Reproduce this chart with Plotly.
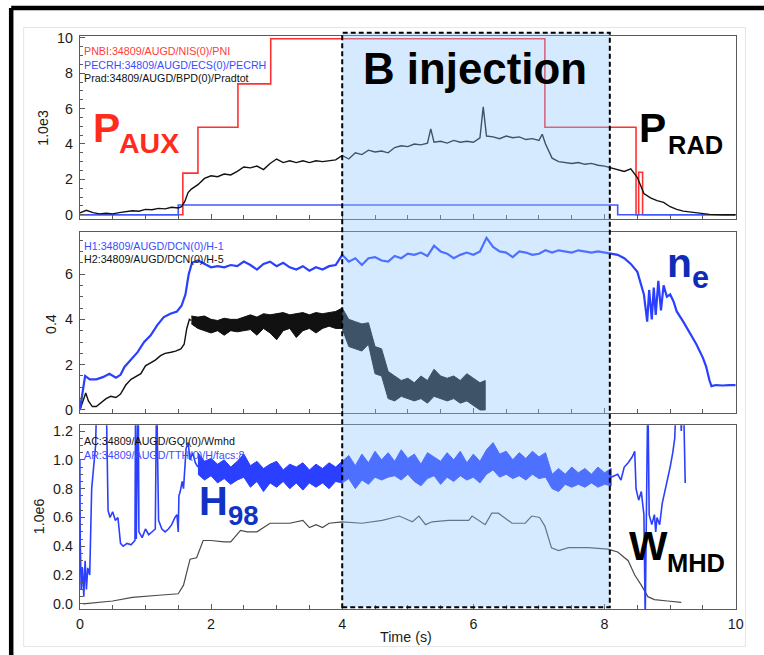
import plotly.graph_objects as go

W, H = 764, 655

# ---------------- data ----------------
# Panel 1 (1.0e3)
pnbi_t = [0.0, 1.57, 1.80, 2.41, 2.91, 7.09, 8.48, 8.52, 8.58, 10.0]
pnbi_v = [0.0, 2.35, 4.95, 7.40, 9.95, 4.95, 0.0, 2.40, 0.0, 0.0]

pecrh_t = [0.0, 1.50, 8.20, 10.0]
pecrh_v = [0.0, 0.55, 0.0, 0.0]

prad_t = [0.0, 0.1, 0.2, 0.3, 0.4, 0.5, 0.6, 0.7, 0.8, 0.9, 1.0, 1.1, 1.2, 1.3, 1.4, 1.5,
          1.55, 1.6, 1.65, 1.7, 1.8, 1.9, 2.0, 2.1, 2.2, 2.3, 2.4, 2.5, 2.6, 2.7, 2.8, 2.9,
          3.0, 3.1, 3.2, 3.3, 3.4, 3.5, 3.6, 3.7, 3.8, 3.9, 4.0, 4.1, 4.2, 4.3, 4.4, 4.5,
          4.6, 4.7, 4.8, 4.9, 5.0, 5.1, 5.2, 5.3, 5.35, 5.4, 5.5, 5.6, 5.7, 5.8, 5.9, 6.0,
          6.1, 6.15, 6.2, 6.3, 6.4, 6.5, 6.6, 6.7, 6.8, 6.9, 7.0, 7.05, 7.1, 7.2, 7.3, 7.4,
          7.5, 7.6, 7.7, 7.8, 7.9, 8.0, 8.1, 8.2, 8.3, 8.4, 8.5, 8.6, 8.7, 8.8, 8.9, 9.0,
          9.1, 9.2, 9.3, 9.4, 9.5, 9.6, 9.8, 10.0]
prad_v = [0.10, 0.25, 0.12, 0.05, 0.08, 0.05, 0.12, 0.15, 0.22, 0.20, 0.30, 0.28, 0.36, 0.33, 0.42, 0.38,
          0.45, 0.75, 1.25, 1.45, 1.70, 2.05, 2.20, 2.15, 2.30, 2.25, 2.45, 2.70, 2.65, 2.75, 2.55, 2.90,
          3.15, 2.95, 3.05, 2.95, 3.05, 2.95, 3.05, 3.00, 3.05, 3.10, 3.35, 3.15, 3.50, 3.40, 3.65, 3.55,
          3.60, 3.50, 3.80, 3.90, 3.85, 4.00, 3.95, 4.05, 4.85, 4.10, 4.15, 4.05, 4.20, 4.10, 4.15, 4.10,
          4.35, 6.10, 4.45, 4.40, 4.30, 4.45, 4.35, 4.40, 4.25, 4.30, 4.20, 4.55, 4.00, 3.20, 3.00, 2.95,
          2.90, 2.95, 2.85, 2.90, 2.80, 2.75, 2.65, 2.55, 2.45, 2.60, 2.10, 1.20, 0.95, 0.80, 0.70, 0.45,
          0.30, 0.20, 0.15, 0.10, 0.05, 0.02, 0.00, 0.00]

# Panel 2 (0.4)
h1_t = [0.0, 0.03, 0.08, 0.15, 0.25, 0.35, 0.45, 0.55, 0.62, 0.68, 0.78, 0.88, 0.98, 1.08, 1.18, 1.28,
        1.38, 1.48, 1.55, 1.61, 1.66, 1.71, 1.8, 1.9, 2.0, 2.1, 2.2, 2.3, 2.4, 2.5, 2.6, 2.7,
        2.8, 2.9, 3.0, 3.1, 3.2, 3.3, 3.4, 3.5, 3.6, 3.7, 3.8, 3.9, 4.0, 4.1, 4.2, 4.3,
        4.4, 4.5, 4.6, 4.7, 4.8, 4.9, 5.0, 5.1, 5.2, 5.3, 5.4, 5.5, 5.6, 5.7, 5.8, 5.9,
        6.0, 6.1, 6.2, 6.3, 6.4, 6.5, 6.6, 6.7, 6.8, 6.9, 7.0, 7.1, 7.2, 7.3, 7.4, 7.5,
        7.6, 7.7, 7.8, 7.9, 8.0, 8.1, 8.2, 8.3, 8.4, 8.5, 8.55, 8.6, 8.65, 8.68, 8.72, 8.75,
        8.78, 8.82, 8.86, 8.9, 8.95, 9.0, 9.05, 9.1, 9.2, 9.3, 9.4, 9.5, 9.55, 9.6, 9.63, 9.7,
        9.8, 9.9, 10.0]
h1_v = [0.0, 0.6, 1.5, 1.35, 1.35, 1.45, 1.6, 1.42, 1.55, 1.9, 2.25, 2.55, 3.0, 3.3, 3.75, 4.1,
        4.25, 4.35, 4.6, 5.1, 6.0, 6.5, 6.6, 6.45, 6.3, 6.35, 6.3, 6.4, 6.35, 6.55, 6.4, 6.2,
        6.45, 6.55, 6.35, 6.5, 6.3, 6.2, 6.35, 6.15, 6.3, 6.2, 6.35, 6.4, 6.85, 6.55, 6.7, 6.4,
        6.7, 6.75, 6.6, 6.55, 6.8, 6.7, 6.9, 6.85, 6.95, 6.8, 7.25, 7.0, 6.9, 6.7, 6.85, 6.95,
        6.85, 7.0, 7.6, 7.2, 7.0, 6.95, 6.75, 7.0, 6.95, 6.85, 6.9, 7.05, 6.95, 7.05, 7.0, 6.95,
        7.05, 7.0, 6.95, 7.0, 6.95, 6.9, 6.85, 6.7, 6.45, 6.1, 5.6, 5.1, 3.9, 5.3, 4.0, 5.4,
        4.2, 5.7, 4.4, 5.5, 5.0, 5.1, 4.8, 4.35, 3.9, 3.4, 2.9, 2.3, 1.9, 1.3, 1.05, 1.1,
        1.08, 1.1, 1.1]

h2_t = [0.0, 0.05, 0.09, 0.13, 0.19, 0.25, 0.32, 0.4, 0.47, 0.55, 0.62, 0.7, 0.78, 0.85, 0.93, 1.0,
        1.08, 1.15, 1.23, 1.3, 1.39, 1.46, 1.54, 1.59, 1.63, 1.67, 1.7]
h2_v = [0.0, 0.45, 0.75, 0.4, 0.15, 0.15, 0.3, 0.5, 0.6, 0.55, 0.7, 1.1, 1.35, 1.45, 1.6, 1.95,
        2.1, 2.2, 2.4, 2.5, 2.55, 2.6, 2.7, 2.9, 3.6, 4.0, 3.95]
h2_band_t = [1.7, 1.8, 1.9, 2.0, 2.1, 2.2, 2.3, 2.4, 2.5, 2.6, 2.7, 2.8, 2.9, 3.0, 3.1, 3.2,
             3.3, 3.4, 3.5, 3.6, 3.7, 3.8, 3.9, 4.0, 4.1, 4.2, 4.3, 4.4, 4.5, 4.6, 4.7, 4.8,
             4.9, 5.0, 5.1, 5.2, 5.3, 5.4, 5.5, 5.6, 5.7, 5.8, 5.9, 6.0, 6.1, 6.18]
h2_hi = [4.15, 4.1, 4.15, 4.0, 3.95, 4.05, 4.0, 4.0, 4.1, 4.2, 4.1, 4.25, 4.2, 4.25, 4.3, 4.2,
         4.25, 4.3, 4.2, 4.3, 4.25, 4.3, 4.35, 4.5, 4.0, 3.9, 3.8, 3.85, 2.8, 2.7, 1.7, 1.5,
         1.3, 1.4, 1.2, 1.5, 1.3, 1.8, 1.5, 1.4, 1.5, 1.3, 1.6, 1.4, 1.2, 1.3]
h2_lo = [3.8, 3.6, 3.5, 3.4, 3.5, 3.3, 3.5, 3.45, 3.5, 3.55, 3.3, 3.6, 3.4, 3.1, 3.5, 3.6,
         3.2, 3.5, 3.6, 3.4, 3.6, 3.7, 3.6, 3.6, 2.8, 2.7, 2.6, 2.9, 1.6, 1.5, 0.5, 0.4,
         0.6, 0.5, 0.4, 0.5, 0.3, 0.6, 0.5, 0.4, 0.5, 0.3, 0.4, 0.2, 0.0, 0.0]

# Panel 3 (1.0e6)
wmhd_t = [0.05, 0.3, 0.5, 0.8, 1.0, 1.2, 1.5, 1.58, 1.68, 1.78, 1.88, 2.0, 2.2, 2.3, 2.45, 2.55,
          2.7, 2.9, 3.2, 3.4, 3.5, 3.6, 3.7, 3.8, 4.0, 4.3, 4.61, 4.87, 5.07, 5.17, 5.27, 5.37,
          5.62, 5.93, 5.98, 6.18, 6.28, 6.38, 6.59, 6.79, 6.89, 7.01, 7.09, 7.19, 7.3, 7.45,
          7.75, 8.05, 8.2, 8.36, 8.46, 8.56, 8.66, 8.76, 8.96, 9.17]
wmhd_v = [0.0, 0.01, 0.02, 0.045, 0.05, 0.06, 0.07, 0.13, 0.31, 0.32, 0.44, 0.44, 0.43, 0.43, 0.51, 0.5,
          0.5, 0.56, 0.56, 0.58, 0.53, 0.55, 0.53, 0.56, 0.57, 0.56, 0.58, 0.61, 0.57, 0.61, 0.55, 0.57,
          0.58, 0.58, 0.61, 0.55, 0.63, 0.63, 0.56, 0.56, 0.61, 0.6, 0.54, 0.39, 0.37, 0.39,
          0.39, 0.38, 0.36, 0.3, 0.2, 0.13, 0.05, 0.03, 0.02, 0.01]

h98a_t = [0.0, 0.005, 0.02, 0.04, 0.06, 0.08, 0.10, 0.12, 0.15, 0.18, 0.21, 0.24, 0.26, 0.29, 0.32, 0.36,
          0.40, 0.43, 0.46, 0.50, 0.54, 0.58, 0.62, 0.66, 0.72, 0.78, 0.84, 0.85, 0.86, 0.89, 0.90, 0.95,
          1.0, 1.05, 1.1, 1.15, 1.17, 1.2, 1.25, 1.3, 1.35, 1.4, 1.45, 1.48, 1.5, 1.51, 1.53, 1.56,
          1.58, 1.6, 1.62, 1.65, 1.68, 1.72, 1.76, 1.8]
h98a_v = [1.0, 0.45, 0.1, 0.25, 0.05, 0.3, 0.1, 0.25, 0.2, 0.8, 0.95, 1.1, 1.5, 1.5, 1.5, 1.5,
          1.5, 0.65, 0.6, 0.64, 0.58, 0.6, 0.42, 0.4, 0.42, 0.41, 0.44, 1.5, 0.45, 1.5, 0.5, 0.46,
          0.52, 0.48, 0.5, 0.52, 1.5, 0.58, 0.52, 0.5, 0.52, 0.55, 0.6, 0.62, 0.5, 0.75, 0.78, 0.85,
          0.8, 0.95, 1.08, 1.12, 1.0, 1.05, 0.98, 0.95]
h98_band_t = [1.8, 1.9, 2.0, 2.1, 2.2, 2.3, 2.4, 2.5, 2.6, 2.7, 2.8, 2.9, 3.0, 3.1, 3.2, 3.3,
              3.4, 3.5, 3.6, 3.7, 3.8, 3.9, 4.0, 4.1, 4.2, 4.3, 4.4, 4.5, 4.6, 4.7, 4.8, 4.9,
              5.0, 5.1, 5.2, 5.3, 5.4, 5.5, 5.6, 5.7, 5.8, 5.9, 6.0, 6.1, 6.2, 6.3, 6.4, 6.5,
              6.6, 6.7, 6.8, 6.9, 7.0, 7.1, 7.2, 7.3, 7.4, 7.5, 7.6, 7.7, 7.8, 7.9, 8.0, 8.1]
h98_hi = [1.05, 0.99, 1.01, 0.97, 1.0, 0.95, 0.99, 1.04, 0.96, 0.99, 0.94, 0.97, 0.99, 0.93, 0.97, 0.95,
          0.98, 0.93, 0.97, 0.94, 0.98, 0.95, 0.99, 1.03, 0.96, 1.04, 0.98, 1.06, 1.0, 1.05, 0.99, 1.07,
          1.01, 1.04, 0.97, 1.05, 1.02, 0.99, 1.05, 1.0, 1.06, 0.98, 1.04, 0.99, 1.07, 1.12, 1.04, 1.06,
          1.0, 1.05, 1.01, 1.06, 1.02, 1.05, 0.9, 0.94, 0.9, 0.95, 0.91, 0.94, 0.9, 0.95, 0.91, 0.94]
h98_lo = [0.9, 0.86, 0.89, 0.84, 0.87, 0.83, 0.86, 0.88, 0.81, 0.85, 0.78, 0.84, 0.81, 0.85, 0.8, 0.84,
          0.79, 0.84, 0.81, 0.84, 0.8, 0.85, 0.84, 0.87, 0.8, 0.86, 0.83, 0.88, 0.86, 0.88, 0.89, 0.86,
          0.9, 0.85, 0.82, 0.87, 0.89, 0.83, 0.88, 0.85, 0.89, 0.86, 0.88, 0.84, 0.9, 0.93, 0.88, 0.9,
          0.87, 0.89, 0.86, 0.9, 0.87, 0.88, 0.8, 0.78, 0.83, 0.81, 0.83, 0.81, 0.84, 0.81, 0.83, 0.82]
h98b_t = [8.1, 8.2, 8.25, 8.3, 8.36, 8.42, 8.46, 8.48, 8.52, 8.56, 8.6, 8.62, 8.64, 8.66, 8.68, 8.72,
          8.76, 8.78, 8.8, 8.84, 8.88, 8.92, 8.96, 9.0, 9.04, 9.07, 9.1, 9.14, 9.17, 9.2, 9.23]
h98b_v = [0.88, 0.9, 0.86, 0.95, 0.98, 1.02, 1.06, 0.8, 0.72, 0.78, 0.62, -0.1, 0.7, 1.5, 0.62, 0.55,
          0.62, 0.5, 0.6, 0.55, 0.7, 0.78, 0.85, 0.95, 1.05, 1.15, 1.5, 1.5, 1.2, 1.5, 0.84]

x_ticks = [0, 2, 4, 6, 8, 10]
y1_ticks = [0, 2, 4, 6, 8, 10]
y2_ticks = [0, 2, 4, 6]
y3_ticks = [0.0, 0.2, 0.4, 0.6, 0.8, 1.0, 1.2]
y3_labels = ["0.0", "0.2", "0.4", "0.6", "0.8", "1.0", "1.2"]

legend1 = [("PNBI:34809/AUGD/NIS(0)/PNI", "#ff3b3b"),
           ("PECRH:34809/AUGD/ECS(0)/PECRH", "#3b4dff"),
           ("Prad:34809/AUGD/BPD(0)/Pradtot", "#111111")]
legend2 = [("H1:34809/AUGD/DCN(0)/H-1", "#3b4dff"),
           ("H2:34809/AUGD/DCN(0)/H-5", "#111111")]
legend3 = [("AC:34809/AUGD/GQI(0)/Wmhd", "#111111"),
           ("AR:34809/AUGD/TTH(0)/H/facs:8", "#3b4dff")]

inj_start, inj_end = 4.0, 8.08

# ---------------- helpers ----------------
# measured photograph transform: picture = O + S * page
SX, OX = 0.986, 2.3
SY, OY = 0.977, 7.6
FS = 1.0 / 0.981

def px(x):
    return ((x - OX) / SX) / W

def py(y):
    return 1 - ((y - OY) / SY) / H

def f(size):
    return size * FS

FONT = "Liberation Sans, Arial, sans-serif"
RED = "#ff3030"
BLUE = "#2a3fff"

fig = go.Figure()

# panel 1
fig.add_trace(go.Scatter(x=pnbi_t, y=pnbi_v, mode="lines", line=dict(color=RED, width=1.6, shape="hv"),
                         xaxis="x", yaxis="y"))
fig.add_trace(go.Scatter(x=pecrh_t, y=pecrh_v, mode="lines", line=dict(color="#4455ff", width=1.6, shape="hv"),
                         xaxis="x", yaxis="y"))
fig.add_trace(go.Scatter(x=prad_t, y=prad_v, mode="lines", line=dict(color="#111111", width=1.4),
                         xaxis="x", yaxis="y"))

# panel 2
fig.add_trace(go.Scatter(x=h2_t, y=h2_v, mode="lines", line=dict(color="#111111", width=1.4),
                         xaxis="x2", yaxis="y2"))
fig.add_trace(go.Scatter(x=h2_band_t + h2_band_t[::-1], y=h2_hi + h2_lo[::-1], mode="lines",
                         fill="toself", fillcolor="#111111", line=dict(color="#111111", width=1),
                         xaxis="x2", yaxis="y2"))
fig.add_trace(go.Scatter(x=h1_t, y=h1_v, mode="lines", line=dict(color=BLUE, width=2.2),
                         xaxis="x2", yaxis="y2"))

# panel 3
fig.add_trace(go.Scatter(x=wmhd_t, y=wmhd_v, mode="lines", line=dict(color="#4a4a4a", width=1.2),
                         xaxis="x3", yaxis="y3"))
fig.add_trace(go.Scatter(x=h98a_t, y=h98a_v, mode="lines", line=dict(color=BLUE, width=1.6),
                         xaxis="x3", yaxis="y3"))
fig.add_trace(go.Scatter(x=h98_band_t + h98_band_t[::-1], y=h98_hi + h98_lo[::-1], mode="lines",
                         fill="toself", fillcolor=BLUE, line=dict(color=BLUE, width=1),
                         xaxis="x3", yaxis="y3"))
fig.add_trace(go.Scatter(x=h98b_t, y=h98b_v, mode="lines", line=dict(color=BLUE, width=1.6),
                         xaxis="x3", yaxis="y3"))

XDOM = [px(78.3), px(735.3)]
axis_common = dict(showline=True, mirror=True, linecolor="#5a5a5a", linewidth=1.3,
                   ticks="inside", ticklen=5, tickcolor="#5a5a5a", showgrid=False, zeroline=False,
                   tickfont=dict(family=FONT, size=f(14), color="#1a1a1a"))
xcommon = dict(axis_common, range=[0, 10], tickvals=x_ticks, domain=XDOM,
               minor=dict(dtick=0.5, tick0=0, ticks="inside", ticklen=4, tickcolor="#5a5a5a"))

fig.update_layout(
    width=W, height=H, margin=dict(l=0, r=0, t=0, b=0), autosize=False,
    paper_bgcolor="white", plot_bgcolor="white", showlegend=False,
    xaxis=dict(xcommon, anchor="y", showticklabels=False),
    xaxis2=dict(xcommon, anchor="y2", showticklabels=False, matches="x"),
    xaxis3=dict(xcommon, anchor="y3", ticktext=[str(v) for v in x_ticks], matches="x", ticklabelstandoff=2),
    yaxis=dict(axis_common, anchor="x", domain=[py(219.3), py(37.7)], range=[-0.245, 10.09],
               tickvals=y1_ticks, ticklabelstandoff=3,
               minor=dict(dtick=0.5, tick0=0, ticks="inside", ticklen=3, tickcolor="#5a5a5a")),
    yaxis2=dict(axis_common, anchor="x2", domain=[py(412.3), py(231.7)], range=[-0.147, 7.88],
                tickvals=y2_ticks, ticklabelstandoff=3,
                minor=dict(dtick=0.5, tick0=0, ticks="inside", ticklen=3, tickcolor="#5a5a5a")),
    yaxis3=dict(axis_common, anchor="x3", domain=[py(606.7), py(424.3)], range=[-0.035, 1.2397],
                tickvals=y3_ticks, ticktext=y3_labels, ticklabelstandoff=3,
                minor=dict(dtick=0.05, tick0=0, ticks="inside", ticklen=3, tickcolor="#5a5a5a")),
)

shapes = []
# faint frame of the inner figure
shapes.append(dict(type="rect", xref="paper", yref="paper", x0=px(22), x1=px(745), y0=py(644), y1=py(29),
                   line=dict(color="#e4e4e4", width=1), layer="below"))
# outer black slide frame (top and left)
top_y = min(py(4), 1 - 2.0 / H)
shapes.append(dict(type="line", xref="paper", yref="paper", x0=px(9.5), x1=1.05, y0=top_y, y1=top_y,
                   line=dict(color="black", width=4.5), layer="above"))
shapes.append(dict(type="line", xref="paper", yref="paper", x0=px(9.5), x1=px(9.5), y0=top_y, y1=-0.05,
                   line=dict(color="black", width=4.5), layer="above"))
# B injection window
shapes.append(dict(type="rect", xref="x3", yref="paper", x0=inj_start, x1=inj_end, y0=py(605), y1=py(34.3),
                   fillcolor="rgba(140,197,254,0.37)", line=dict(color="black", width=2, dash="5px,3px"),
                   layer="above"))
fig.update_layout(shapes=shapes)

ann = []
def text(x, y, s, size, color, bold=False, angle=0, xanchor="left", yanchor="middle"):
    ann.append(dict(xref="paper", yref="paper", x=px(x), y=py(y), text=("<b>%s</b>" % s) if bold else s,
                    showarrow=False, xanchor=xanchor, yanchor=yanchor, textangle=angle,
                    font=dict(family=FONT, size=f(size), color=color)))

for i, (s, c) in enumerate(legend1):
    text(80, 52.5 + 13.5 * i, s, 10.5, c)
for i, (s, c) in enumerate(legend2):
    text(80, 246 + 13.3 * i, s, 10.5, c)
for i, (s, c) in enumerate(legend3):
    text(80, 440 + 13.3 * i, s, 10.5, c)

# axis titles
text(42, 129, "1.0e3", 14, "#1a1a1a", angle=-90, xanchor="center")
text(50, 324, "0.4", 14, "#1a1a1a", angle=-90, xanchor="center")
text(37, 515, "1.0e6", 14, "#1a1a1a", angle=-90, xanchor="center")
text(405, 635, "Time (s)", 14, "#1a1a1a", xanchor="center")

# big labels
text(473.7, 70, "B injection", 43, "black", bold=True, xanchor="center")
text(89, 129, "P", 40, "#ff2b1c", bold=True)
text(115, 143.5, "AUX", 28, "#ff2b1c", bold=True)
text(636, 129, "P", 40, "black", bold=True)
text(665, 146, "RAD", 25, "black", bold=True)
text(664, 263, "n", 40, "#0d2db8", bold=True)
text(689, 277, "e", 30, "#0d2db8", bold=True)
text(196, 499, "H", 39, "#1133c4", bold=True)
text(225, 513.5, "98", 27, "#1133c4", bold=True)
text(626, 544, "W", 40, "black", bold=True)
text(664, 561, "MHD", 25, "black", bold=True)

fig.update_layout(annotations=ann)

fig.write_html("out.html", config={"responsive": False, "displayModeBar": False},
               post_script="document.body.style.margin='0px';document.body.style.padding='0px';"
                           "document.body.style.overflow='hidden';")
